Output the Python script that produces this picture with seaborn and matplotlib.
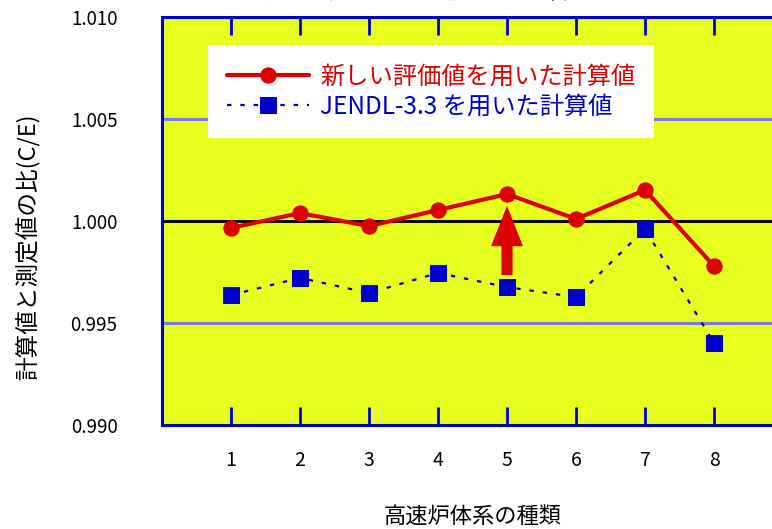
import numpy as np
import pandas as pd
import matplotlib
matplotlib.use("Agg")
import matplotlib.pyplot as plt
import seaborn as sns

# data
systems = [1, 2, 3, 4, 5, 6, 7, 8]
ce_new = [0.99966, 1.00039, 0.99975, 1.00054, 1.00132, 1.00010, 1.00152, 0.99779]
ce_jendl = [0.99637, 0.99721, 0.99647, 0.99745, 0.99676, 0.99627, 0.99961, 0.99402]
label_new = "新しい評価値を用いた計算値"
label_jendl = "JENDL-3.3 を用いた計算値"
y_ticks = [0.990, 0.995, 1.000, 1.005, 1.010]
arrow_x = 5
arrow_from = 0.99735
arrow_to = 1.00074

sns.set_theme(style="white")
plt.rcParams['font.family'] = ['Noto Sans CJK JP', 'DejaVu Sans']

df = pd.DataFrame({"system": systems, "new": ce_new, "jendl": ce_jendl})

fig = plt.figure(figsize=(7.72, 5.29), dpi=100)
ax = fig.add_axes([162 / 772, 1 - 425 / 529, 621 / 772, 408 / 529])
ax.set_facecolor("#e6ff1e")

blue = "#0000cc"
red = "#dd0000"

# reference lines
for yv in (0.995, 1.005):
    ax.axhline(yv, color="#7a7ae0", lw=2.2, zorder=1)
ax.axhline(1.000, color="#7a7ae0", lw=2.2, zorder=1)
ax.axhline(1.000, color="black", lw=2, zorder=1.5)

sns.lineplot(data=df, x="system", y="new", ax=ax, color=red, lw=3,
             marker="o", markersize=11, markeredgecolor=red, label=label_new, zorder=3)
sns.lineplot(data=df, x="system", y="jendl", ax=ax, color=blue, lw=1.6,
             linestyle=(0, (2, 4)), marker="s", markersize=11.5, markeredgecolor=blue,
             label=label_jendl, zorder=3)

ax.annotate("", xy=(arrow_x, arrow_to), xytext=(arrow_x, arrow_from),
            arrowprops=dict(arrowstyle="simple,head_length=1.45,head_width=1.15,tail_width=0.4",
                            mutation_scale=20, color=red, lw=0, shrinkA=0, shrinkB=0,
                            capstyle="round"), zorder=4)

ax.set_xlim(0, 9)
ax.set_ylim(0.990, 1.010)
ax.set_xticks(systems)
ax.set_yticks(y_ticks)
ax.set_yticklabels([f"{v:.3f}" for v in y_ticks])
ax.tick_params(axis="x", direction="in", length=13, width=2, color=blue,
               top=True, bottom=True, pad=18, labelsize=14, labelcolor="black")
ax.tick_params(axis="y", direction="in", length=15, width=2, color=blue,
               left=True, pad=32, labelsize=13.5, labelcolor="black")
for s in ax.spines.values():
    s.set_color(blue)
    s.set_linewidth(2.2)

ax.set_xlabel("高速炉体系の種類", fontsize=16, labelpad=25, color="black")
ax.set_ylabel("計算値と測定値の比(C/E)", fontsize=17, color="black")
ax.yaxis.set_label_coords(-0.195, 0.436)

leg = ax.legend(loc="upper left", bbox_to_anchor=(0.055, 0.96), frameon=True,
                fancybox=False, facecolor="white", edgecolor="none", framealpha=1,
                fontsize=17.5, handlelength=3.4, handletextpad=0.45, borderpad=0.75,
                labelspacing=0.15)
leg.get_texts()[0].set_color(red)
leg.get_texts()[1].set_color(blue)

fig.text(430 / 772, 1 + 2 / 529, "高速炉体系の臨界値の改善", ha="center", va="baseline",
         fontsize=20, fontweight="bold")

fig.savefig("out.png", dpi=100)
